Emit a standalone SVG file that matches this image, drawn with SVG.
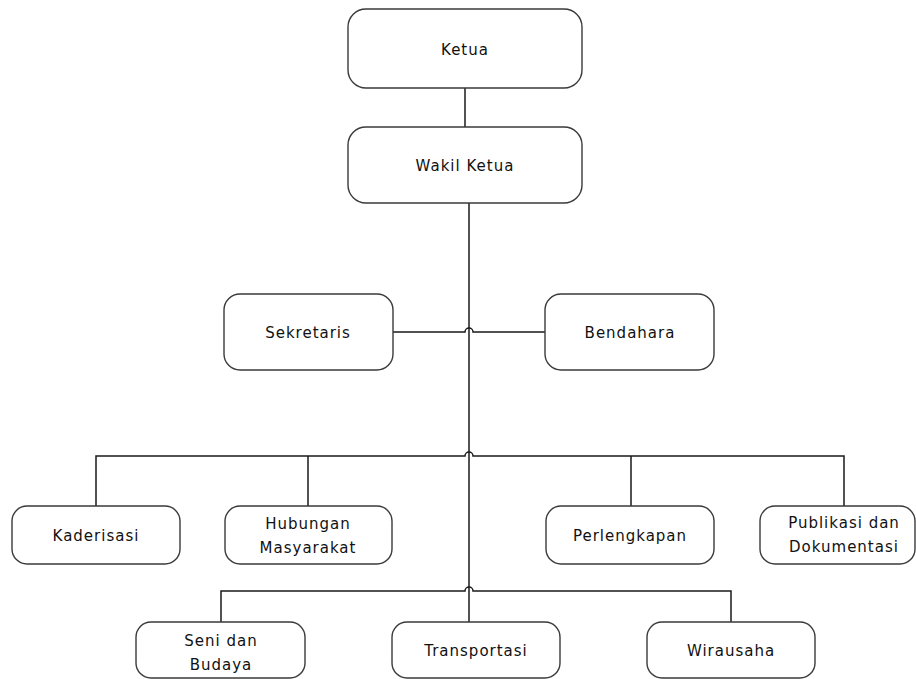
<svg xmlns="http://www.w3.org/2000/svg" width="916" height="679" viewBox="0 0 916 679">
<style>
.box{fill:#fff;stroke:#3a3a3a;stroke-width:1.4}
.t{font-family:"DejaVu Sans",Verdana,sans-serif;font-size:15px;letter-spacing:1px;fill:#111;text-anchor:middle}
.c{fill:none;stroke:#1a1a1a;stroke-width:1.5}
</style>
<rect width="916" height="679" fill="#fff"/>
<g id="connectors">
<path class="c" d="M465 88V127"/>
<path class="c" d="M469 203V622"/>
<path class="c" d="M393 332H465a4 4 0 0 1 8 0H545"/>
<path class="c" d="M96 506V456H465a4 4 0 0 1 8 0H844V506M308 456V506M631 456V506"/>
<path class="c" d="M221 622V591H465a4 4 0 0 1 8 0H731V622"/>
</g>
<g id="ketua"><rect class="box" x="348" y="9" width="234" height="79" rx="18"/><text class="t" x="465" y="55">Ketua</text></g>
<g id="wakil"><rect class="box" x="348" y="127" width="234" height="76" rx="18"/><text class="t" x="465" y="171">Wakil Ketua</text></g>
<g id="sekretaris"><rect class="box" x="224" y="294" width="169" height="76" rx="16"/><text class="t" x="308" y="338">Sekretaris</text></g>
<g id="bendahara"><rect class="box" x="545" y="294" width="169" height="76" rx="16"/><text class="t" x="630" y="338">Bendahara</text></g>
<g id="kaderisasi"><rect class="box" x="12" y="506" width="168" height="58" rx="15"/><text class="t" x="96" y="541">Kaderisasi</text></g>
<g id="humas"><rect class="box" x="225" y="506" width="167" height="58" rx="15"/><text class="t" x="308" y="529">Hubungan</text><text class="t" x="308" y="553">Masyarakat</text></g>
<g id="perlengkapan"><rect class="box" x="546" y="506" width="168" height="58" rx="15"/><text class="t" x="630" y="541">Perlengkapan</text></g>
<g id="publikasi"><rect class="box" x="760" y="506" width="155" height="58" rx="15"/><text class="t" x="844" y="528">Publikasi dan</text><text class="t" x="844" y="552">Dokumentasi</text></g>
<g id="seni"><rect class="box" x="136" y="622" width="169" height="56" rx="15"/><text class="t" x="221" y="646">Seni dan</text><text class="t" x="221" y="670">Budaya</text></g>
<g id="transportasi"><rect class="box" x="392" y="622" width="168" height="56" rx="15"/><text class="t" x="476" y="656">Transportasi</text></g>
<g id="wirausaha"><rect class="box" x="647" y="622" width="168" height="56" rx="15"/><text class="t" x="731" y="656">Wirausaha</text></g>
</svg>
